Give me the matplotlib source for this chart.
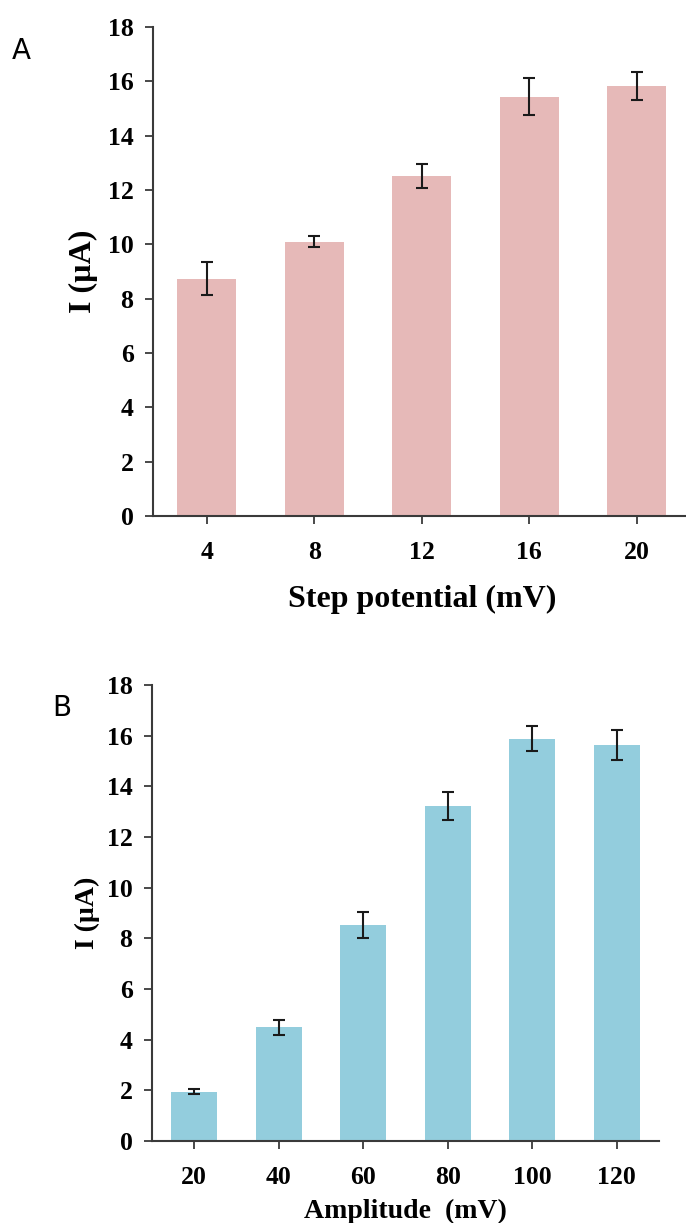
import matplotlib
matplotlib.use("Agg")
import matplotlib.pyplot as plt
import numpy as np

# panel A: step potential
step_labels = ["4", "8", "12", "16", "20"]
step_current = [8.74, 10.1, 12.52, 15.43, 15.82]
step_err = [0.6, 0.2, 0.44, 0.68, 0.52]

# panel B: amplitude
amp_labels = ["20", "40", "60", "80", "100", "120"]
amp_current = [1.95, 4.49, 8.52, 13.22, 15.88, 15.62]
amp_err = [0.1, 0.3, 0.52, 0.54, 0.5, 0.6]

y_ticks = [0, 2, 4, 6, 8, 10, 12, 14, 16, 18]

W, H = 686, 1223
fig = plt.figure(figsize=(W / 100, H / 100), dpi=100)

SERIF = "Liberation Serif"
SPINE = "#3a3a3a"


def draw_panel(ax, labels, values, errs, color, xlabel, xpad, lsize, ypad):
    x = np.arange(len(labels))
    ax.bar(x, values, width=0.55, color=color, edgecolor="none", zorder=2)
    ax.errorbar(x, values, yerr=errs, fmt="none", ecolor="#1a1a1a",
                elinewidth=1.5, capsize=4, capthick=1.5, zorder=3)
    ax.set_xlim(-0.5, len(labels) - 0.5)
    ax.set_ylim(0, 18)
    ax.set_yticks(y_ticks)
    ax.set_xticks(x)
    ax.set_xticklabels(labels)
    for s in ["top", "right"]:
        ax.spines[s].set_visible(False)
    for s in ["left", "bottom"]:
        ax.spines[s].set_color(SPINE)
        ax.spines[s].set_linewidth(1.5)
    ax.tick_params(axis="both", direction="out", length=6, width=1.3,
                   color=SPINE, labelsize=18.5)
    ax.tick_params(axis="x", pad=12)
    ax.tick_params(axis="y", pad=8)
    for lab in ax.get_xticklabels() + ax.get_yticklabels():
        lab.set_fontfamily(SERIF)
        lab.set_fontweight("bold")
    ax.set_xlabel(xlabel, fontsize=lsize, fontweight="bold", family=SERIF,
                  labelpad=xpad)
    ax.set_ylabel("I (µA)", fontsize=lsize, fontweight="bold", family=SERIF,
                  labelpad=ypad)


ax_a = fig.add_axes([153 / W, 1 - 516 / H, 537.5 / W, 489 / H])
draw_panel(ax_a, step_labels, step_current, step_err, "#E6B9B8",
           "Step potential (mV)", 15, 23, 7)

ax_b = fig.add_axes([152 / W, 1 - 1141 / H, 507 / W, 456 / H])
draw_panel(ax_b, amp_labels, amp_current, amp_err, "#93CDDD",
           "Amplitude  (mV)", 7, 20, 5)
# the B panel has a tick at the right end of the category axis
ax_b.spines["bottom"].set_bounds(-0.5, len(amp_labels) - 0.5)

fig.text(21 / W, 1 - 51 / H, "A", fontsize=20, family="DejaVu Sans",
         ha="center", va="center")
fig.text(62 / W, 1 - 708 / H, "B", fontsize=20, family="DejaVu Sans",
         ha="center", va="center")

fig.savefig("out.png", dpi=100)
